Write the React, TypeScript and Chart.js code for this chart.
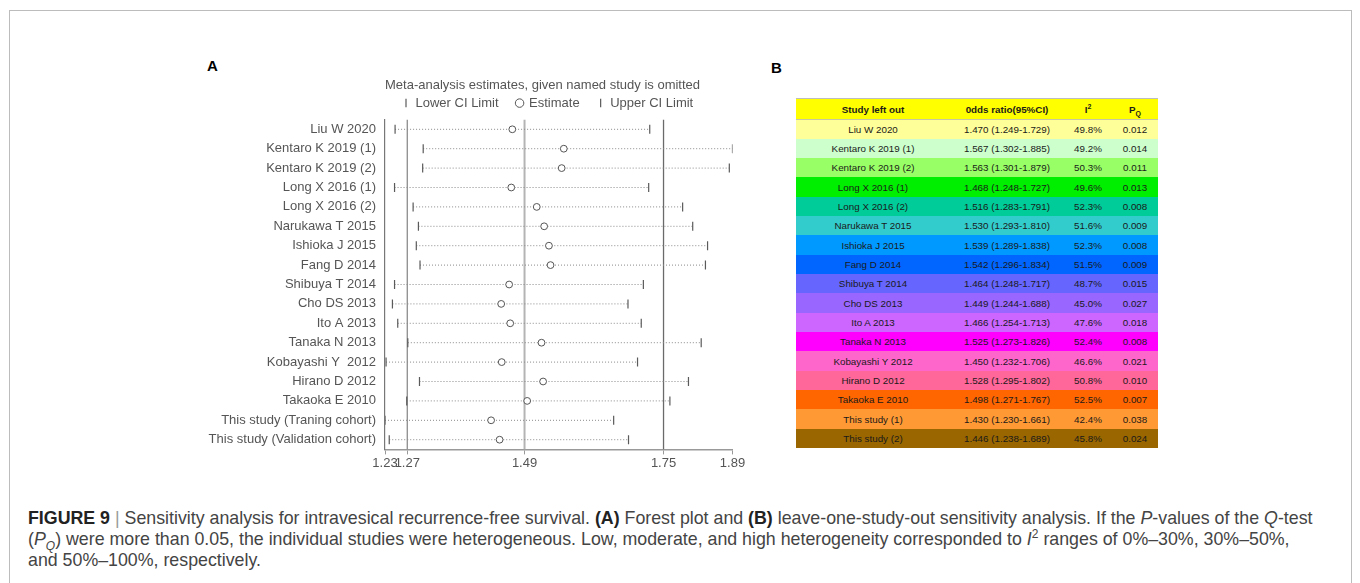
import { useEffect, useRef } from 'react';
import { Chart, registerables } from 'chart.js';

Chart.register(...registerables);

// forest plot rows (panel A), top to bottom
const studies = [
  'Liu W 2020',
  'Kentaro K 2019 (1)',
  'Kentaro K 2019 (2)',
  'Long X 2016 (1)',
  'Long X 2016 (2)',
  'Narukawa T 2015',
  'Ishioka J 2015',
  'Fang D 2014',
  'Shibuya T 2014',
  'Cho DS 2013',
  'Ito A 2013',
  'Tanaka N 2013',
  'Kobayashi Y  2012',
  'Hirano D 2012',
  'Takaoka E 2010',
  'This study (Traning cohort)',
  'This study (Validation cohort)',
];

// table rows (panel B)
const tableStudies = [
  'Liu W 2020',
  'Kentaro K 2019 (1)',
  'Kentaro K 2019 (2)',
  'Long X 2016 (1)',
  'Long X 2016 (2)',
  'Narukawa T 2015',
  'Ishioka J 2015',
  'Fang D 2014',
  'Shibuya T 2014',
  'Cho DS 2013',
  'Ito A 2013',
  'Tanaka N 2013',
  'Kobayashi Y 2012',
  'Hirano D 2012',
  'Takaoka E 2010',
  'This study (1)',
  'This study (2)',
];

const estimate = [1.470, 1.567, 1.563, 1.468, 1.516, 1.530, 1.539, 1.542, 1.464, 1.449, 1.466, 1.525, 1.450, 1.528, 1.498, 1.430, 1.446];
const lowerCI = [1.249, 1.302, 1.301, 1.248, 1.283, 1.293, 1.289, 1.296, 1.248, 1.244, 1.254, 1.273, 1.232, 1.295, 1.271, 1.230, 1.238];
const upperCI = [1.729, 1.885, 1.879, 1.727, 1.791, 1.810, 1.838, 1.834, 1.717, 1.688, 1.713, 1.826, 1.706, 1.802, 1.767, 1.661, 1.689];
const iSquared = ['49.8%', '49.2%', '50.3%', '49.6%', '52.3%', '51.6%', '52.3%', '51.5%', '48.7%', '45.0%', '47.6%', '52.4%', '46.6%', '50.8%', '52.5%', '42.4%', '45.8%'];
const pQ = ['0.012', '0.014', '0.011', '0.013', '0.008', '0.009', '0.008', '0.009', '0.015', '0.027', '0.018', '0.008', '0.021', '0.010', '0.007', '0.038', '0.024'];

// pooled lower CI, estimate, upper CI (vertical lines)
const pooledLines = [1.272, 1.493, 1.755];
const pooledColors = ['#8c8c8c', '#b4b4b4', '#6a6a6a'];
const pooledWidths = [1.3, 2, 1.3];

const xMin = 1.230;
const xMax = 1.885;
const xTickValues = [1.230, 1.272, 1.493, 1.755, 1.885];
const xTickLabels = ['1.23', '1.27', '1.49', '1.75', '1.89'];

const rowColors = [
  '#ffff99', '#ccffcc', '#99ff66', '#00ee00', '#00cc99', '#33cccc', '#0099ff', '#0066ff',
  '#6666ff', '#9966ff', '#cc66ff', '#ff00ff', '#ff66cc', '#ff6699', '#ff6600', '#ff9933', '#996600',
];

const FONT = "'Liberation Sans', Arial, sans-serif";
const GREY = '#555';

function ForestPlot() {
  const canvasRef = useRef<HTMLCanvasElement>(null);
  const chartRef = useRef<Chart | null>(null);

  useEffect(() => {
    if (!canvasRef.current) return;
    const ctx = canvasRef.current.getContext('2d');
    if (!ctx) return;

    const refSets = pooledLines.map((v, i) => ({
      type: 'line' as const,
      label: '',
      data: [{ x: v, y: 0.5 }, { x: v, y: 17.5 }],
      borderColor: pooledColors[i],
      borderWidth: pooledWidths[i],
      pointRadius: 0,
      showLine: true,
      order: 6,
    }));

    const ciSets = studies.map((_, i) => ({
      type: 'line' as const,
      label: '',
      data: [{ x: lowerCI[i], y: i + 1 }, { x: upperCI[i], y: i + 1 }],
      borderColor: '#8a8a8a',
      borderWidth: 1,
      borderDash: [1, 2],
      pointRadius: 0,
      showLine: true,
      order: 5,
    }));

    chartRef.current = new Chart(ctx, {
      type: 'scatter',
      data: {
        datasets: [
          {
            label: 'Lower CI Limit',
            data: lowerCI.map((v, i) => ({ x: v, y: i + 1 })),
            pointStyle: 'line',
            rotation: 90,
            pointRadius: 4.5,
            borderColor: '#5a5a5a',
            borderWidth: 1.2,
            order: 1,
          },
          {
            label: 'Estimate',
            data: estimate.map((v, i) => ({ x: v, y: i + 1 })),
            pointStyle: 'circle',
            pointRadius: 3.4,
            borderColor: '#555',
            backgroundColor: '#fff',
            borderWidth: 1,
            order: 1,
          },
          {
            label: 'Upper CI Limit',
            data: upperCI.map((v, i) => ({ x: v, y: i + 1 })),
            pointStyle: 'line',
            rotation: 90,
            pointRadius: 4.5,
            borderColor: '#5a5a5a',
            borderWidth: 1.2,
            order: 1,
          },
          ...refSets,
          ...ciSets,
        ] as any,
      },
      options: {
        animation: false,
        responsive: true,
        maintainAspectRatio: false,
        layout: { padding: { top: 8, right: 16.5, bottom: 2, left: 0 } },
        plugins: {
          tooltip: { enabled: false },
          title: {
            display: true,
            text: 'Meta-analysis estimates, given named study is omitted',
            align: 'start',
            fullSize: false,
            color: GREY,
            font: { family: FONT, size: 13, weight: 'normal' },
            padding: { top: 0, bottom: -15 },
          },
          legend: {
            display: true,
            align: 'start',
            fullSize: false,
            labels: {
              usePointStyle: true,
              boxWidth: 6,
              boxHeight: 6,
              padding: 18,
              color: GREY,
              font: { family: FONT, size: 13 },
              filter: (item) => item.text !== '',
            },
          },
        },
        scales: {
          x: {
            type: 'linear',
            min: xMin,
            max: xMax,
            afterBuildTicks: (axis) => {
              axis.ticks = xTickValues.map((v) => ({ value: v }));
            },
            ticks: {
              autoSkip: false,
              maxRotation: 0,
              minRotation: 0,
              padding: 1,
              color: GREY,
              font: { family: FONT, size: 13 },
              callback: (_v, i) => xTickLabels[i],
            },
            grid: { display: true, drawOnChartArea: false, drawTicks: true, tickLength: 5, color: '#999' },
            border: { display: true, color: '#999', width: 1.5 },
          },
          y: {
            type: 'linear',
            min: 0.5,
            max: 17.5,
            reverse: true,
            afterFit: (scale) => {
              scale.width = 195;
            },
            afterBuildTicks: (axis) => {
              axis.ticks = studies.map((_, i) => ({ value: i + 1 }));
            },
            ticks: {
              autoSkip: false,
              padding: 9,
              color: GREY,
              font: { family: FONT, size: 13 },
              callback: (v) => studies[Math.round(Number(v)) - 1],
            },
            grid: { display: false, drawTicks: false },
            border: { display: true, color: '#777', width: 1.2 },
          },
        },
      },
    });

    return () => {
      if (chartRef.current) chartRef.current.destroy();
      chartRef.current = null;
    };
  }, []);

  return (
    <div style={{ position: 'absolute', left: 190, top: 70, width: 559, height: 404 }}>
      <canvas ref={canvasRef}></canvas>
    </div>
  );
}

function SensitivityTable() {
  const cell: React.CSSProperties = { padding: 0, textAlign: 'center', verticalAlign: 'middle', whiteSpace: 'nowrap' };
  return (
    <table
      style={{
        position: 'absolute', left: 796, top: 98, width: 362, borderCollapse: 'collapse', tableLayout: 'fixed',
        fontFamily: FONT, fontSize: 9.8, color: '#1a1a1a',
      }}
    >
      <colgroup>
        <col style={{ width: 154 }} />
        <col style={{ width: 114 }} />
        <col style={{ width: 48 }} />
        <col style={{ width: 46 }} />
      </colgroup>
      <thead>
        <tr style={{ height: 21, background: '#ffff00', borderTop: '1px solid #bdbdbd', borderBottom: '1px solid #c8c8a0', fontWeight: 'bold' }}>
          <th style={cell}>Study left out</th>
          <th style={cell}>0dds ratio(95%CI)</th>
          <th style={cell}>I<sup style={{ fontSize: 7, lineHeight: 0 }}>2</sup></th>
          <th style={cell}>P<sub style={{ fontSize: 7, lineHeight: 0 }}>Q</sub></th>
        </tr>
      </thead>
      <tbody>
        {tableStudies.map((name, i) => (
          <tr key={name} style={{ height: 19.33, background: rowColors[i] }}>
            <td style={cell}>{name}</td>
            <td style={cell}>{`${estimate[i].toFixed(3)} (${lowerCI[i].toFixed(3)}-${upperCI[i].toFixed(3)})`}</td>
            <td style={cell}>{iSquared[i]}</td>
            <td style={cell}>{pQ[i]}</td>
          </tr>
        ))}
      </tbody>
    </table>
  );
}

export default function App() {
  const letter: React.CSSProperties = { position: 'absolute', fontFamily: FONT, fontWeight: 'bold', fontSize: 15, color: '#000', lineHeight: '18px' };
  const small: React.CSSProperties = { fontSize: 12, lineHeight: 0 };
  return (
    <div style={{ position: 'absolute', left: 0, top: 0, width: 1360, height: 583, overflow: 'hidden', background: '#fff' }}>
      <div style={{ position: 'absolute', left: 9, top: 10, width: 1343, height: 640, border: '1px solid #bcbcbc', boxSizing: 'border-box' }} />
      <div style={{ ...letter, left: 207, top: 57 }}>A</div>
      <div style={{ ...letter, left: 771, top: 59 }}>B</div>
      <ForestPlot />
      <SensitivityTable />
      <div
        style={{
          position: 'absolute', left: 28, top: 508, fontFamily: FONT, fontSize: 17.8, lineHeight: '21px',
          color: '#444', whiteSpace: 'nowrap',
        }}
      >
        <b style={{ color: '#222' }}>FIGURE 9</b> <span style={{ color: '#999' }}>|</span> Sensitivity analysis for intravesical recurrence-free survival. <b style={{ color: '#222' }}>(A)</b> Forest plot and <b style={{ color: '#222' }}>(B)</b> leave-one-study-out sensitivity analysis. If the <i>P</i>-values of the <i>Q</i>-test
        <br />
        (<i>P</i><sub style={small}><i>Q</i></sub>) were more than 0.05, the individual studies were heterogeneous. Low, moderate, and high heterogeneity corresponded to <i>I</i><sup style={small}>2</sup> ranges of 0%–30%, 30%–50%,
        <br />
        and 50%–100%, respectively.
      </div>
    </div>
  );
}
